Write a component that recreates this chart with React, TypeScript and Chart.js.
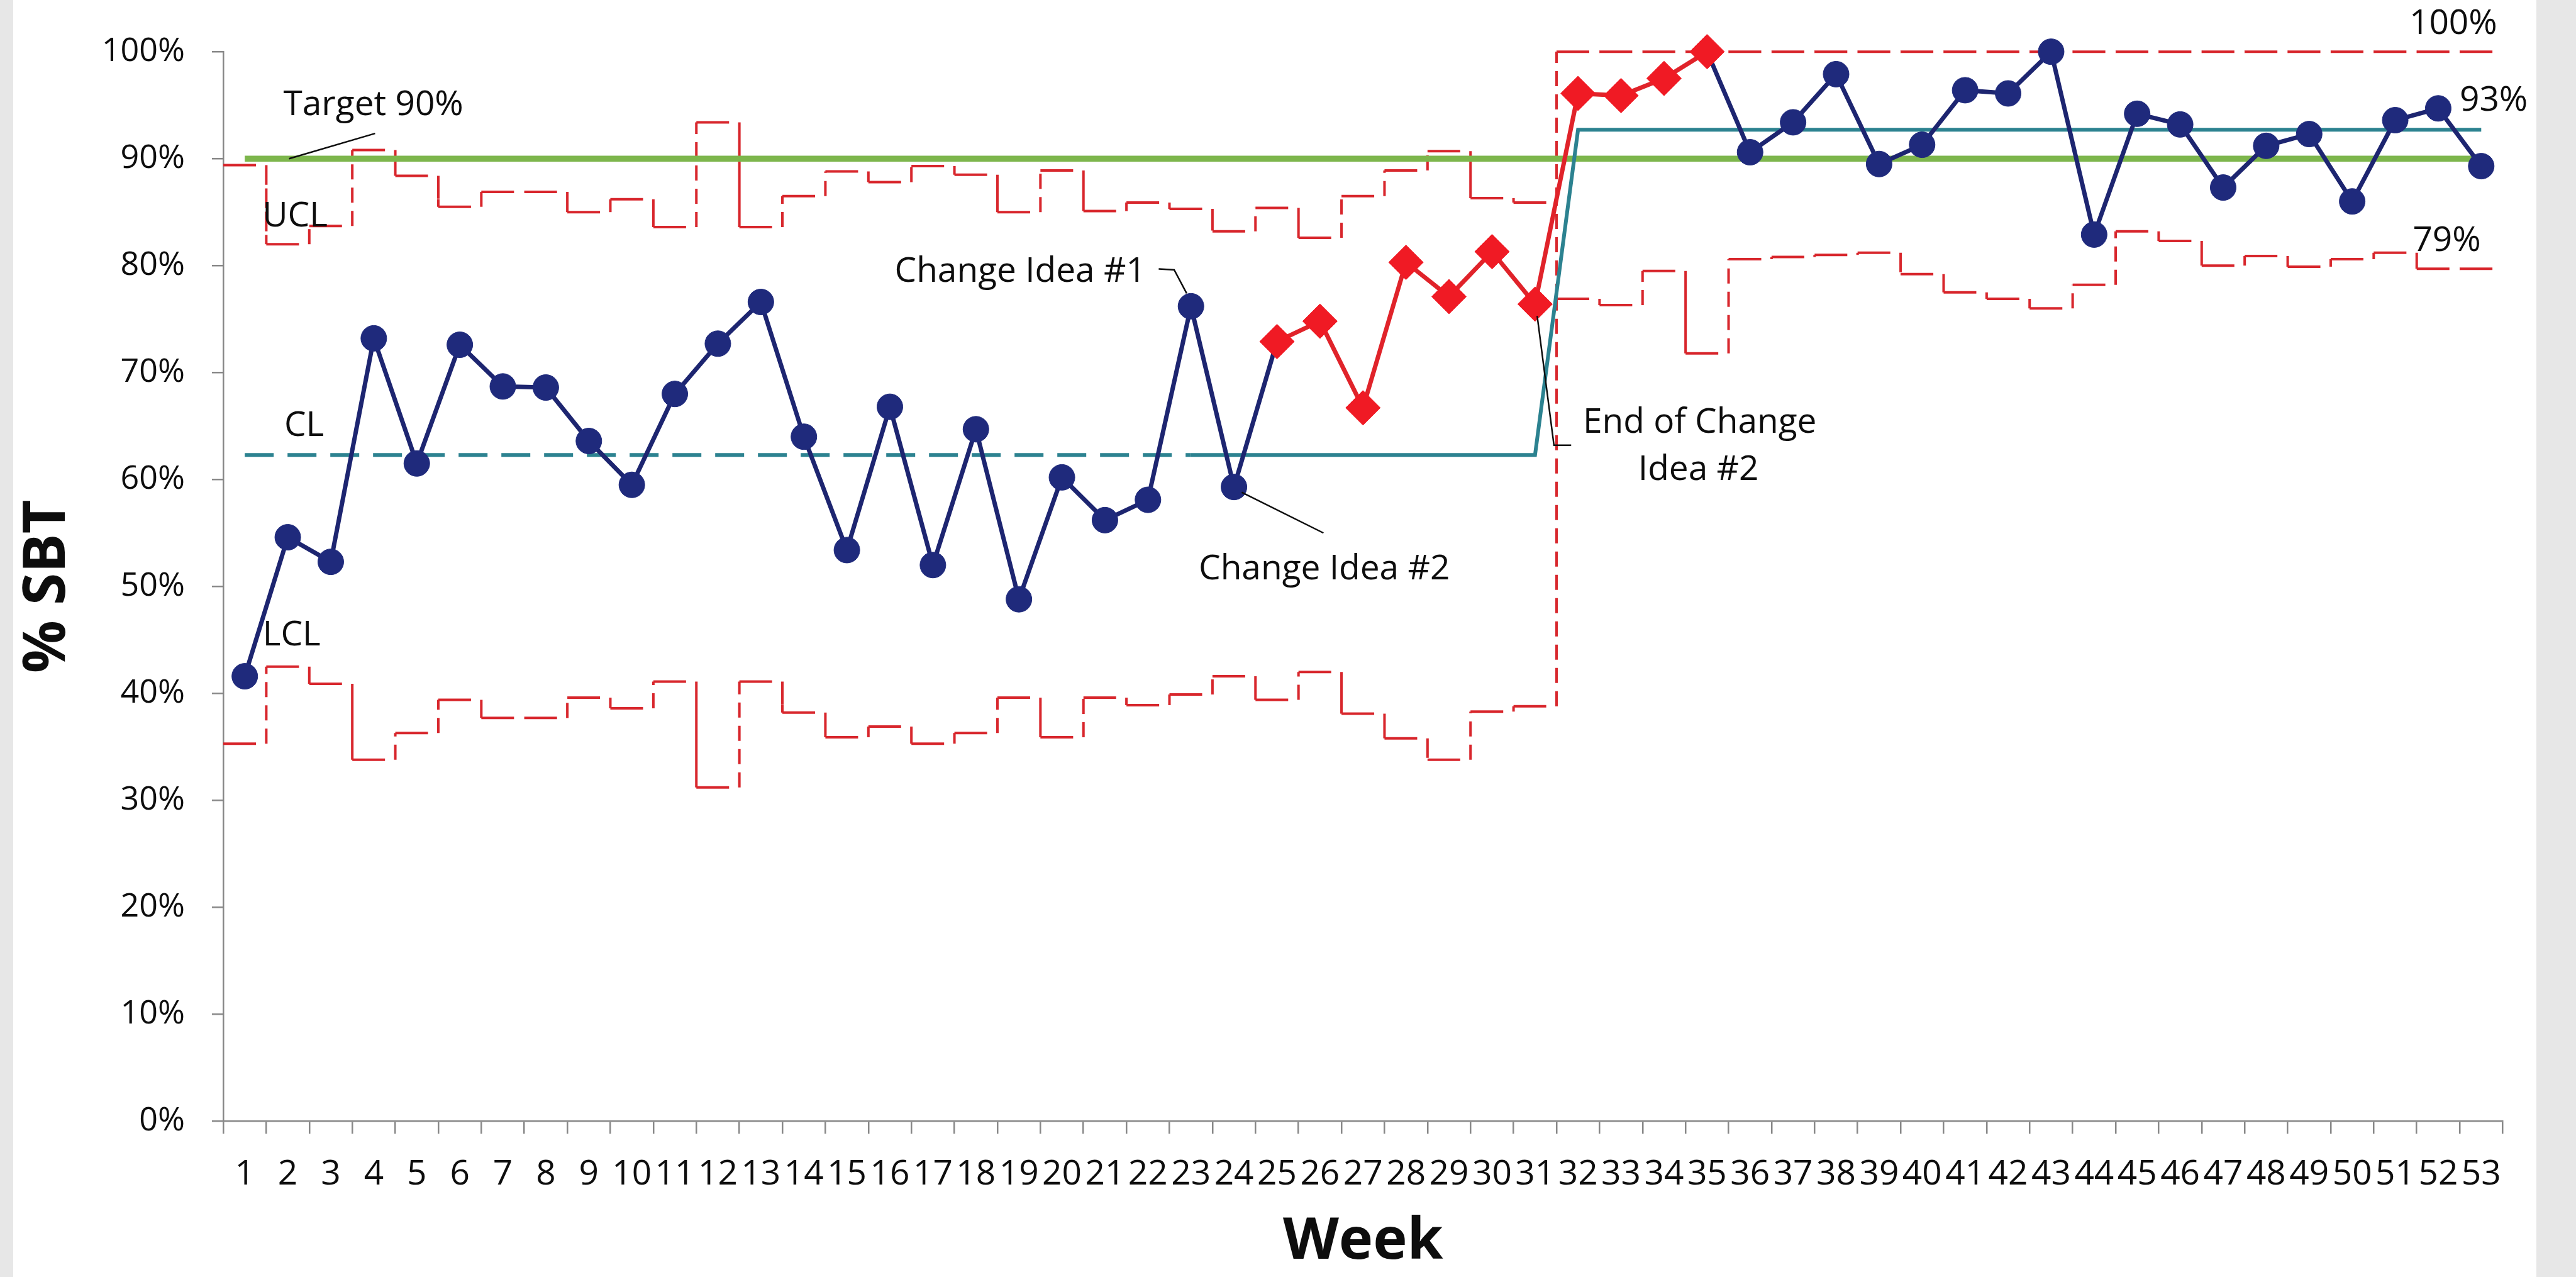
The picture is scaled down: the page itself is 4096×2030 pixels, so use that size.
import React, { useEffect, useRef } from 'react';
import { Chart, registerables } from 'chart.js';

Chart.register(...registerables);

// ---------------- DATA ----------------
const weeks = [
  1, 2, 3, 4, 5, 6, 7, 8, 9, 10, 11, 12, 13, 14, 15, 16, 17, 18, 19, 20,
  21, 22, 23, 24, 25, 26, 27, 28, 29, 30, 31, 32, 33, 34, 35, 36, 37, 38, 39, 40,
  41, 42, 43, 44, 45, 46, 47, 48, 49, 50, 51, 52, 53,
];

// % SBT per week
const sbtPercent = [
  41.6, 54.6, 52.3, 73.2, 61.5, 72.6, 68.7, 68.6, 63.6, 59.5,
  68.0, 72.7, 76.6, 64.0, 53.4, 66.8, 52.0, 64.7, 48.8, 60.2,
  56.2, 58.1, 76.2, 59.3, 72.9, 74.8, 66.7, 80.3, 77.1, 81.3,
  76.4, 96.1, 95.9, 97.5, 100.0, 90.6, 93.4, 97.9, 89.5, 91.3,
  96.4, 96.1, 100.0, 82.9, 94.2, 93.2, 87.3, 91.2, 92.3, 86.0,
  93.6, 94.7, 89.3,
];

// Upper control limit per week
const uclPercent = [
  89.4, 82.0, 83.7, 90.8, 88.4, 85.5, 86.9, 86.9, 85.0, 86.2,
  83.6, 93.4, 83.6, 86.5, 88.8, 87.8, 89.3, 88.5, 85.0, 88.9,
  85.1, 85.9, 85.3, 83.2, 85.4, 82.6, 86.5, 88.9, 90.7, 86.3,
  85.9, 100, 100, 100, 100, 100, 100, 100, 100, 100,
  100, 100, 100, 100, 100, 100, 100, 100, 100, 100,
  100, 100, 100,
];

// Lower control limit per week
const lclPercent = [
  35.3, 42.5, 40.9, 33.8, 36.3, 39.4, 37.7, 37.7, 39.6, 38.6,
  41.1, 31.2, 41.1, 38.2, 35.9, 36.9, 35.3, 36.3, 39.6, 35.9,
  39.6, 38.9, 39.9, 41.6, 39.4, 42.0, 38.1, 35.8, 33.8, 38.3,
  38.8, 76.9, 76.3, 79.5, 71.8, 80.6, 80.8, 81.0, 81.2, 79.2,
  77.5, 76.9, 76.0, 78.2, 83.2, 82.3, 80.0, 80.9, 79.9, 80.6,
  81.2, 79.7, 79.7,
];

const centerLinePhases = [62.3, 92.7]; // phase 1 (weeks 1-31), phase 2 (weeks 32-53)
const phaseOneLastWeek = 31;
const dashedCenterLastWeek = 23;
const targetPercent = 90;
const highlightWeeks = [25, 35]; // red diamond run (first, last)

const yTickValues = [0, 10, 20, 30, 40, 50, 60, 70, 80, 90, 100];

// ---------------- STYLE ----------------
const FONT = '"Open Sans", "Noto Sans", sans-serif';
const NAVY = '#1d2570';
const NAVY_POINT = '#1f2a7c';
const RED = '#e0232a';
const RED_POINT = '#f01a24';
const LIMIT_RED = '#d8262c';
const GREEN = '#7db64c';
const TEAL = '#2c8290';
const AXIS = '#888888';
const TEXT = '#0d0d0d';

// annotation placements (week position, value)
const notes = [
  { text: 'Target 90%', w: 3.99, v: 95.0 },
  { text: 'UCL', w: 2.17, v: 84.6 },
  { text: 'CL', w: 2.38, v: 65.0 },
  { text: 'LCL', w: 2.09, v: 45.4 },
  { text: 'Change Idea #1', w: 19.03, v: 79.4 },
  { text: 'Change Idea #2', w: 26.1, v: 51.6 },
  { text: 'End of Change', w: 34.83, v: 65.3 },
  { text: 'Idea #2', w: 34.8, v: 60.9 },
  { text: '100%', w: 52.35, v: 102.6 },
  { text: '93%', w: 53.29, v: 95.4 },
  { text: '79%', w: 52.2, v: 82.3 },
];

// ---------------- DERIVED ----------------
const categories = weeks.map(String);
const isHighlight = (w: number) => w >= highlightWeeks[0] && w <= highlightWeeks[1];
const centerLine = weeks.map((w) => (w <= phaseOneLastWeek ? centerLinePhases[0] : centerLinePhases[1]));
const clDashed = centerLine.map((v, i) => (weeks[i] <= dashedCenterLastWeek ? v : null));
const clSolid = centerLine.map((v, i) => (weeks[i] >= dashedCenterLastWeek ? v : null));
const targetLine = weeks.map(() => targetPercent);
const stepPoints = (limit: number[]) =>
  weeks.flatMap((w, i) => [
    { x: w - 0.5, y: limit[i] },
    { x: w + 0.5, y: limit[i] },
  ]);
const phaseIdx = weeks.indexOf(phaseOneLastWeek);
const phaseDivider = [
  { x: phaseOneLastWeek + 0.5, y: lclPercent[phaseIdx + 1] },
  { x: phaseOneLastWeek + 0.5, y: uclPercent[phaseIdx] },
];

const wIdx = (w: number) => weeks.indexOf(w);
const leaders = [
  [[2.03, targetPercent], [4.03, 92.36]],
  [[22.25, 79.69], [22.61, 79.6], [23 - 0.1, sbtPercent[wIdx(23)] + 1.2]],
  [[24 + 0.18, sbtPercent[wIdx(24)] - 0.5], [26.08, 55.0]],
  [[31 + 0.05, sbtPercent[wIdx(31)] - 1.1], [31.44, 63.2], [31.84, 63.2]],
];

const annotationPlugin = {
  id: 'annotationsText',
  afterDatasetsDraw(chart: any) {
    const ctx = chart.ctx as CanvasRenderingContext2D;
    const xs = chart.scales.xStep;
    const ys = chart.scales.y;
    const px = (w: number) => xs.getPixelForValue(w);
    const py = (v: number) => ys.getPixelForValue(v);
    ctx.save();
    ctx.strokeStyle = TEXT;
    ctx.lineWidth = 2.5;
    for (const l of leaders) {
      ctx.beginPath();
      l.forEach(([w, v], i) => (i ? ctx.lineTo(px(w), py(v)) : ctx.moveTo(px(w), py(v))));
      ctx.stroke();
    }
    ctx.fillStyle = TEXT;
    ctx.font = `55px ${FONT}`;
    ctx.textAlign = 'center';
    ctx.textBaseline = 'middle';
    for (const n of notes) ctx.fillText(n.text, px(n.w), py(n.v));
    ctx.restore();
  },
};

export default function App() {
  const ref = useRef<HTMLCanvasElement>(null);

  useEffect(() => {
    const canvas = ref.current;
    if (!canvas) return;
    const limitSegment = {
      borderDash: (c: any) => (c.p0DataIndex % 2 === 0 ? [52, 17] : [24, 13]),
    };
    const chart = new Chart(canvas, {
      type: 'line',
      data: {
        labels: categories,
        datasets: [
          {
            label: '% SBT',
            data: sbtPercent,
            xAxisID: 'x',
            yAxisID: 'y',
            borderColor: NAVY,
            borderWidth: 7,
            borderJoinStyle: 'round',
            pointStyle: weeks.map((w) => (isHighlight(w) ? 'rectRot' : 'circle')),
            pointRadius: weeks.map((w) => (isHighlight(w) ? 27.5 : 20.5)),
            pointHoverRadius: weeks.map((w) => (isHighlight(w) ? 27.5 : 20.5)),
            pointBackgroundColor: weeks.map((w) => (isHighlight(w) ? RED_POINT : NAVY_POINT)),
            pointBorderColor: weeks.map((w) => (isHighlight(w) ? RED_POINT : NAVY_POINT)),
            pointBorderWidth: 1,
            tension: 0,
            clip: false,
            order: 0,
            segment: {
              borderColor: (c: any) =>
                isHighlight(weeks[c.p0DataIndex]) && isHighlight(weeks[c.p1DataIndex]) ? RED : NAVY,
            },
          } as any,
          {
            label: 'CL',
            data: clSolid,
            xAxisID: 'x',
            yAxisID: 'y',
            borderColor: TEAL,
            borderWidth: 6,
            pointRadius: 0,
            tension: 0,
            clip: false,
            order: 1,
          },
          {
            label: 'CL dashed',
            data: clDashed,
            xAxisID: 'x',
            yAxisID: 'y',
            borderColor: TEAL,
            borderWidth: 6,
            borderDash: [46, 22],
            pointRadius: 0,
            tension: 0,
            clip: false,
            order: 2,
          },
          {
            label: 'Target',
            data: targetLine,
            xAxisID: 'x',
            yAxisID: 'y',
            borderColor: GREEN,
            borderWidth: 9.5,
            pointRadius: 0,
            tension: 0,
            clip: false,
            order: 3,
          },
          {
            label: 'UCL',
            data: stepPoints(uclPercent),
            xAxisID: 'xStep',
            yAxisID: 'y',
            borderColor: LIMIT_RED,
            borderWidth: 4,
            pointRadius: 0,
            tension: 0,
            clip: false,
            order: 4,
            segment: limitSegment,
          } as any,
          {
            label: 'LCL',
            data: stepPoints(lclPercent),
            xAxisID: 'xStep',
            yAxisID: 'y',
            borderColor: LIMIT_RED,
            borderWidth: 4,
            pointRadius: 0,
            tension: 0,
            clip: false,
            order: 5,
            segment: limitSegment,
          } as any,
          {
            label: 'Phase',
            data: phaseDivider,
            xAxisID: 'xStep',
            yAxisID: 'y',
            borderColor: LIMIT_RED,
            borderWidth: 4,
            borderDash: [24, 13],
            pointRadius: 0,
            tension: 0,
            clip: false,
            order: 6,
          } as any,
        ],
      },
      options: {
        animation: false,
        responsive: false,
        devicePixelRatio: 1,
        events: [],
        layout: { padding: { left: 0, right: 53.5, top: 82.2, bottom: 0 } },
        plugins: {
          legend: { display: false },
          tooltip: { enabled: false },
        },
        scales: {
          x: {
            type: 'category',
            position: 'bottom',
            offset: true,
            grid: {
              offset: true,
              drawOnChartArea: false,
              drawTicks: true,
              tickLength: 20,
              color: AXIS,
              lineWidth: 2.5,
            },
            border: { display: true, color: AXIS, width: 2.5 },
            ticks: {
              autoSkip: false,
              maxRotation: 0,
              minRotation: 0,
              padding: 32,
              color: TEXT,
              font: { family: FONT, size: 55 },
            },
            title: {
              display: true,
              text: 'Week',
              color: TEXT,
              font: { family: FONT, size: 92, weight: 'bold' },
              padding: { top: 0, bottom: 0 },
            },
            afterFit: (s: any) => {
              s.height = 247.7;
            },
          },
          xStep: {
            type: 'linear',
            display: false,
            min: 0.5,
            max: 53.5,
            bounds: 'data',
          },
          y: {
            type: 'linear',
            min: 0,
            max: 100,
            afterBuildTicks: (s: any) => {
              s.ticks = yTickValues.map((v) => ({ value: v }));
            },
            grid: {
              drawOnChartArea: false,
              drawTicks: true,
              tickLength: 18,
              color: AXIS,
              lineWidth: 2.5,
            },
            border: { display: true, color: AXIS, width: 2.5 },
            ticks: {
              padding: 43,
              color: TEXT,
              font: { family: FONT, size: 52 },
              callback: (v: any) => `${v}%`,
            },
            title: {
              display: true,
              text: '% SBT',
              color: TEXT,
              font: { family: FONT, size: 93, weight: 'bold' },
              padding: { top: 0, bottom: 0 },
            },
            afterFit: (s: any) => {
              s.width = 334;
            },
          },
        },
      } as any,
      plugins: [annotationPlugin],
    });
    return () => chart.destroy();
  }, []);

  return (
    <div
      style={{
        position: 'fixed',
        left: 0,
        top: 0,
        width: 4096,
        height: 2030,
        background: '#e7e7e7',
        overflow: 'hidden',
      }}
    >
      <canvas
        ref={ref}
        width={4012}
        height={2030}
        style={{ position: 'absolute', left: 21, top: 0, width: 4012, height: 2030, background: '#ffffff' }}
      />
    </div>
  );
}
